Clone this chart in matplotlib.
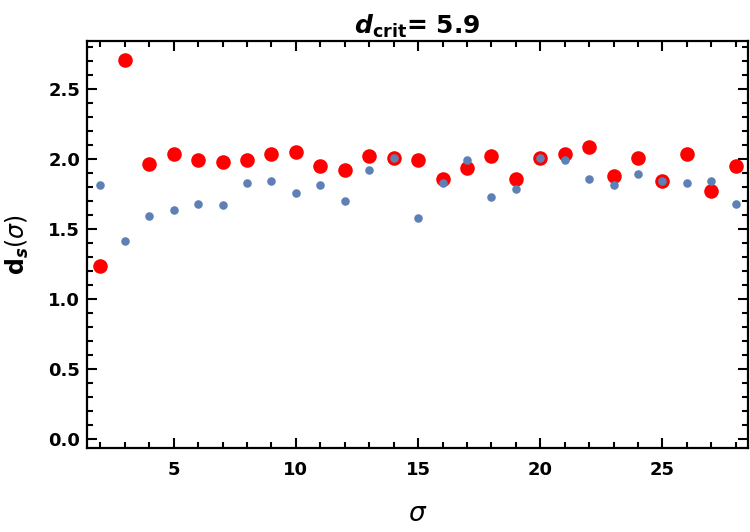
import matplotlib
matplotlib.use("Agg")
import matplotlib.pyplot as plt
from matplotlib.ticker import MultipleLocator, FormatStrFormatter

sigma = list(range(2, 29))
ds_red = [1.231, 2.707, 1.962, 2.036, 1.993, 1.976, 1.993, 2.036, 2.050, 1.948,
          1.917, 2.021, 2.007, 1.993, 1.857, 1.933, 2.021, 1.857, 2.007, 2.036,
          2.081, 1.874, 2.007, 1.843, 2.036, 1.767, 1.948]
ds_blue = [1.814, 1.410, 1.588, 1.633, 1.679, 1.667, 1.829, 1.843, 1.755, 1.810,
           1.695, 1.917, 2.005, 1.574, 1.829, 1.993, 1.724, 1.783, 2.005, 1.993,
           1.857, 1.814, 1.888, 1.843, 1.829, 1.843, 1.679]
title_text = r"$\mathbfit{d}_{\mathbf{crit}}$= 5.9"
ylabel_text = r"$\mathbf{d}_{\mathbfit{s}}\mathrm{(}\sigma\mathrm{)}$"
xlabel_text = r"$\sigma$"

plt.rcParams['font.family'] = ['DejaVu Sans']
plt.rcParams['mathtext.fontset'] = 'custom'
plt.rcParams['mathtext.it'] = 'DejaVu Sans:italic'
plt.rcParams['mathtext.rm'] = 'DejaVu Sans'
plt.rcParams['mathtext.bf'] = 'DejaVu Sans:bold'
plt.rcParams['mathtext.bfit'] = 'DejaVu Sans:bold:italic'

fig = plt.figure(figsize=(7.5, 5.32), dpi=100)
ax = fig.add_axes([87/750, (532-448)/532, (748-87)/750, (448-41)/532])

ax.scatter(sigma, ds_red, s=110, color='#FF0000', zorder=3, linewidths=0)
ax.scatter(sigma, ds_blue, s=38, color='#5E81B5', zorder=4, linewidths=0)

ax.set_xlim(1.45, 28.5)
ax.set_ylim(-0.065, 2.84)
ax.xaxis.set_major_locator(MultipleLocator(5))
ax.xaxis.set_minor_locator(MultipleLocator(1))
ax.yaxis.set_major_locator(MultipleLocator(0.5))
ax.yaxis.set_minor_locator(MultipleLocator(0.1))
ax.yaxis.set_major_formatter(FormatStrFormatter('%.1f'))

ax.tick_params(which='both', direction='in', top=True, right=True, width=1.5, colors='black')
ax.tick_params(which='major', length=7, labelsize=13)
ax.tick_params(axis='x', which='major', pad=9.5)
ax.tick_params(axis='y', which='major', pad=5)
ax.tick_params(which='minor', length=4)
for lbl in ax.get_xticklabels() + ax.get_yticklabels():
    lbl.set_fontweight('bold')
for sp in ax.spines.values():
    sp.set_linewidth(1.6)

ax.set_xlabel(xlabel_text, fontsize=19)
ax.xaxis.set_label_coords(0.5, -0.13)
ax.set_ylabel(ylabel_text, fontsize=17)
ax.yaxis.set_label_coords(-0.085, 0.5)
ax.set_title(title_text, fontsize=18, fontweight='bold', pad=5)

fig.savefig("out.png", dpi=100)
